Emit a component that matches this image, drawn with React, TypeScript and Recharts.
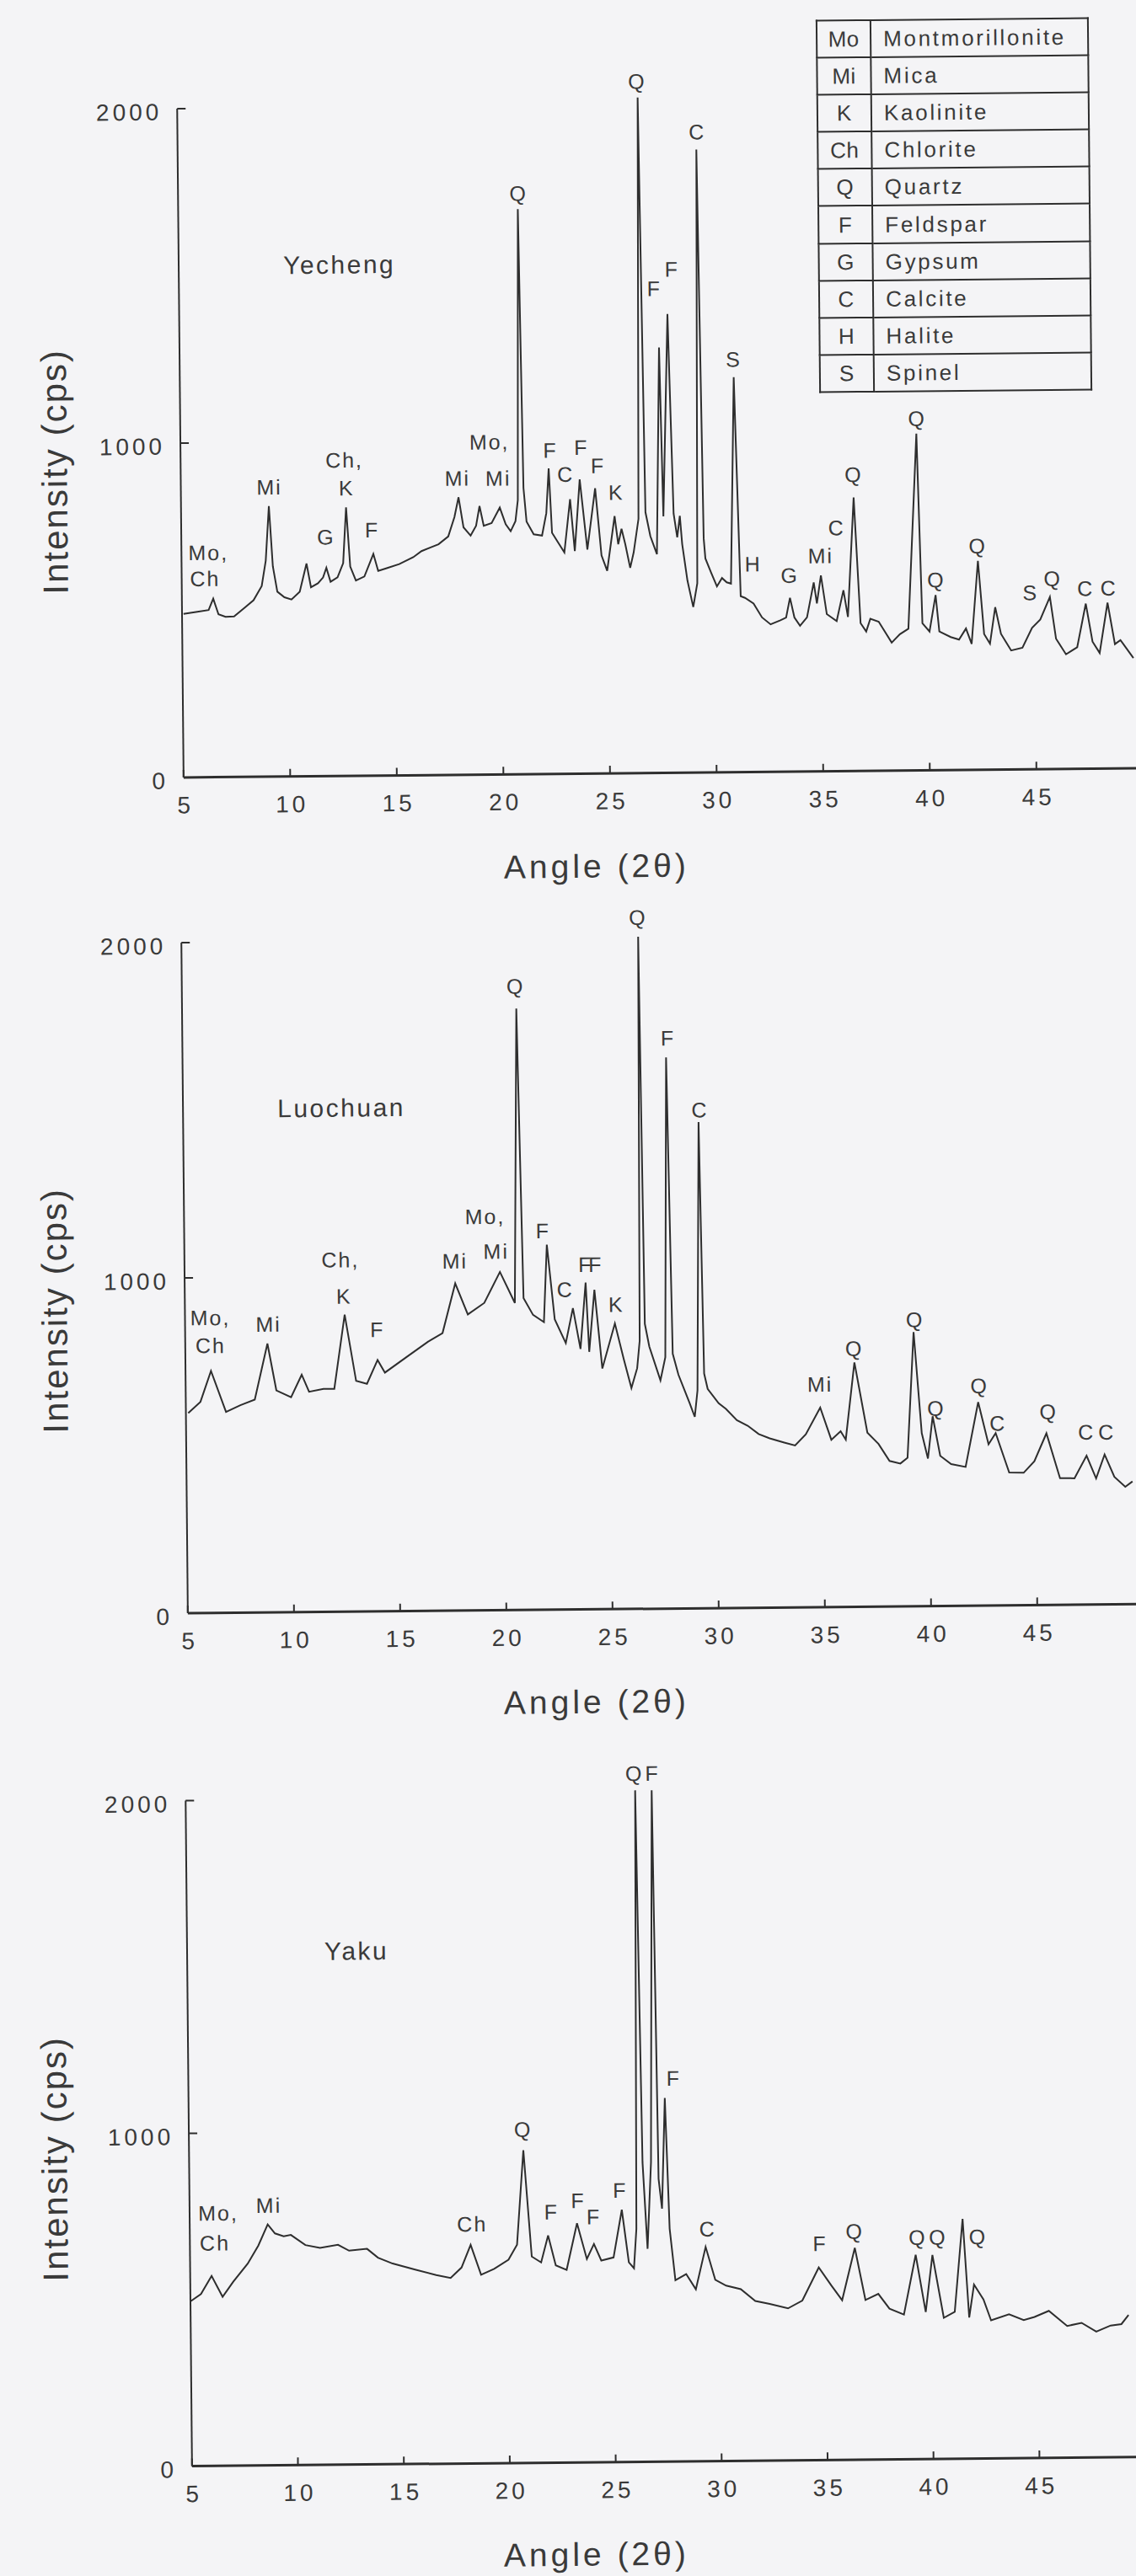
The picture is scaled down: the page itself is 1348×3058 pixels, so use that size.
import React from "react";
import { LineChart, Line, XAxis, YAxis, ReferenceDot, ReferenceLine } from "recharts";

// X-ray diffraction patterns: [2θ angle, intensity (cps)]
const yechengPattern = [
  [5.07, 489], [5.72, 495], [6.25, 500], [6.47, 534], [6.71, 487], [7.04, 479], [7.44, 480],
  [7.96, 507], [8.36, 528], [8.75, 570], [8.95, 646], [9.12, 809], [9.28, 629], [9.48, 553],
  [9.81, 536], [10.14, 529], [10.53, 552], [10.86, 636], [11.06, 565], [11.39, 577], [11.63, 594],
  [11.79, 623], [11.98, 581], [12.31, 594], [12.58, 636], [12.74, 803], [12.91, 626], [13.17, 584],
  [13.57, 596], [14.0, 663], [14.22, 612], [14.62, 620], [15.21, 632], [15.87, 652], [16.26, 670],
  [16.66, 680], [17.06, 690], [17.52, 713], [17.82, 771], [18.02, 830], [18.24, 740], [18.57, 715],
  [18.83, 744], [19.0, 803], [19.19, 744], [19.56, 752], [19.95, 798], [20.22, 748], [20.45, 727],
  [20.68, 757], [20.8, 820], [20.93, 1690], [21.07, 856], [21.2, 755], [21.53, 717], [21.92, 713],
  [22.13, 780], [22.26, 914], [22.39, 721], [22.72, 687], [22.96, 662], [23.25, 821], [23.45, 666],
  [23.71, 880], [24.04, 670], [24.43, 853], [24.7, 652], [24.96, 606], [25.33, 769], [25.49, 685],
  [25.65, 731], [25.82, 685], [26.04, 614], [26.21, 660], [26.45, 760], [26.6, 2020], [26.78, 780],
  [27.0, 708], [27.3, 654], [27.49, 1272], [27.62, 767], [27.9, 1372], [28.1, 775], [28.26, 704],
  [28.39, 768], [28.49, 683], [28.72, 574], [28.98, 495], [29.18, 566], [29.33, 1863], [29.5, 700],
  [29.57, 640], [29.83, 598], [30.1, 556], [30.34, 581], [30.56, 568], [30.76, 564], [30.98, 1181],
  [31.21, 526], [31.41, 521], [31.81, 504], [32.2, 462], [32.6, 441], [33.06, 453], [33.33, 461],
  [33.52, 520], [33.72, 461], [33.98, 436], [34.31, 461], [34.64, 565], [34.78, 502], [34.98, 586],
  [35.24, 470], [35.7, 449], [36.03, 541], [36.23, 461], [36.55, 818], [36.82, 442], [37.08, 417],
  [37.28, 455], [37.67, 446], [38.27, 383], [38.66, 408], [39.06, 424], [39.52, 1007], [39.72, 440],
  [40.05, 415], [40.35, 524], [40.51, 415], [41.04, 398], [41.43, 390], [41.76, 423], [42.02, 377],
  [42.35, 625], [42.61, 406], [42.88, 377], [43.14, 486], [43.4, 406], [43.87, 356], [44.4, 364],
  [44.86, 423], [45.25, 448], [45.71, 515], [45.98, 390], [46.44, 343], [46.97, 364], [47.39, 494],
  [47.69, 380], [48.02, 346], [48.41, 496], [48.74, 372], [49.0, 384], [49.6, 330],
];

const luochuanPattern = [
  [5.11, 597], [5.69, 630], [6.2, 722], [6.89, 599], [7.57, 619], [8.25, 635], [8.87, 802],
  [9.27, 662], [9.96, 641], [10.47, 708], [10.81, 657], [11.49, 665], [12.0, 665], [12.52, 886],
  [13.03, 688], [13.54, 679], [14.05, 750], [14.39, 712], [15.42, 758], [16.44, 803], [17.12, 828],
  [17.74, 976], [18.32, 883], [19.1, 917], [19.85, 1009], [20.54, 916], [20.74, 1794], [20.95, 930],
  [21.39, 880], [21.9, 858], [22.07, 1089], [22.41, 866], [22.92, 795], [23.27, 899], [23.61, 777],
  [23.88, 975], [24.02, 768], [24.29, 953], [24.63, 718], [25.24, 852], [25.65, 743], [25.99, 659],
  [26.27, 718], [26.4, 800], [26.51, 2005], [26.65, 850], [26.85, 782], [27.36, 681], [27.6, 750],
  [27.77, 1644], [27.95, 760], [28.21, 697], [28.72, 613], [28.96, 571], [29.1, 650], [29.27, 1450],
  [29.42, 700], [29.58, 654], [30.09, 611], [30.43, 594], [30.94, 560], [31.45, 543], [31.96, 518],
  [32.48, 505], [33.16, 492], [33.67, 483], [34.18, 516], [34.87, 595], [35.38, 499], [35.82, 524],
  [36.06, 499], [36.5, 729], [37.08, 519], [37.6, 485], [38.11, 434], [38.62, 426], [38.96, 443],
  [39.3, 818], [39.64, 516], [39.92, 440], [40.16, 566], [40.5, 448], [41.01, 423], [41.69, 414],
  [42.31, 607], [42.78, 481], [43.12, 514], [43.74, 396], [44.42, 395], [44.93, 429], [45.51, 512],
  [46.13, 378], [46.81, 377], [47.39, 444], [47.83, 376], [48.24, 447], [48.69, 380], [49.2, 350],
  [49.54, 366],
];

const yakuPattern = [
  [5.0, 495], [5.5, 517], [6.01, 571], [6.52, 508], [7.03, 553], [7.72, 607], [8.23, 661],
  [8.68, 724], [9.02, 697], [9.43, 688], [9.77, 692], [10.45, 661], [11.14, 652], [11.99, 661],
  [12.51, 643], [13.36, 648], [13.87, 621], [14.56, 603], [15.58, 585], [16.61, 567], [17.29, 558],
  [17.81, 589], [18.25, 657], [18.73, 567], [19.35, 584], [20.03, 611], [20.44, 656], [20.78, 940],
  [21.13, 620], [21.57, 602], [21.91, 683], [22.26, 593], [22.77, 579], [23.28, 719], [23.73, 611],
  [24.07, 656], [24.41, 606], [24.99, 615], [25.4, 758], [25.71, 600], [25.95, 582], [26.08, 700],
  [26.22, 2018], [26.4, 900], [26.6, 640], [26.8, 900], [27.0, 2018], [27.15, 850], [27.3, 760],
  [27.48, 1093], [27.65, 700], [27.9, 545], [28.41, 563], [28.86, 517], [29.34, 644], [29.78, 545],
  [30.29, 527], [30.98, 516], [31.66, 480], [32.34, 471], [33.2, 457], [33.88, 480], [34.67, 579],
  [35.25, 525], [35.76, 480], [36.38, 637], [36.86, 480], [37.47, 498], [37.99, 453], [38.67, 435],
  [39.25, 614], [39.7, 442], [40.04, 613], [40.55, 424], [41.07, 442], [41.48, 721], [41.75, 424],
  [41.99, 523], [42.43, 478], [42.78, 415], [43.63, 433], [44.32, 415], [44.83, 424], [45.51, 442],
  [46.37, 396], [47.05, 405], [47.74, 378], [48.42, 396], [48.93, 400], [49.27, 427],
];

// peak identifications: [angle, intensity at text centre, mineral code]
const yechengPeaks = [
  [6.26, 672, "Mo,"], [6.1, 594, "Ch"], [9.15, 866, "Mi"], [11.79, 715, "G"], [12.68, 945, "Ch,"],
  [12.77, 861, "K"], [13.95, 735, "F"], [17.98, 887, "Mi"], [19.49, 995, "Mo,"], [19.89, 886, "Mi"],
  [20.97, 1737, "Q"], [22.35, 968, "F"], [23.05, 896, "C"], [23.8, 976, "F"], [24.57, 921, "F"],
  [25.42, 840, "K"], [26.58, 2069, "Q"], [27.29, 1449, "F"], [28.13, 1506, "F"], [29.37, 1916, "C"],
  [30.98, 1235, "S"], [31.81, 622, "H"], [33.52, 587, "G"], [34.98, 645, "Mi"], [35.74, 728, "C"],
  [36.56, 887, "Q"], [39.56, 1053, "Q"], [40.38, 570, "Q"], [42.35, 670, "Q"], [44.8, 529, "S"],
  [45.85, 570, "Q"], [47.39, 540, "C"], [48.48, 540, "C"],
];

const luochuanPeaks = [
  [6.19, 881, "Mo,"], [6.19, 798, "Ch"], [8.93, 860, "Mi"], [12.34, 1050, "Ch,"], [12.5, 941, "K"],
  [14.05, 841, "F"], [17.74, 1043, "Mi"], [19.17, 1175, "Mo,"], [19.68, 1071, "Mi"], [20.71, 1861, "Q"],
  [21.9, 1131, "F"], [22.92, 955, "C"], [23.88, 1029, "F"], [24.36, 1029, "F"], [25.31, 909, "K"],
  [26.51, 2063, "Q"], [27.87, 1702, "F"], [29.34, 1487, "C"], [34.87, 665, "Mi"], [36.5, 771, "Q"],
  [39.37, 855, "Q"], [40.33, 590, "Q"], [42.37, 656, "Q"], [43.23, 544, "C"], [45.62, 577, "Q"],
  [47.39, 515, "C"], [48.35, 514, "C"],
];

const yakuPeaks = [
  [6.35, 760, "Mo,"], [6.18, 670, "Ch"], [8.74, 782, "Mi"], [18.33, 720, "Ch"], [20.78, 1003, "Q"],
  [22.08, 754, "F"], [23.35, 787, "F"], [24.07, 738, "F"], [25.33, 817, "F"], [26.19, 2069, "Q"],
  [27.04, 2069, "F"], [27.91, 1152, "F"], [29.44, 698, "C"], [34.74, 651, "F"], [36.38, 687, "Q"],
  [39.35, 667, "Q"], [40.31, 667, "Q"], [42.2, 667, "Q"],
];

const angleTicks = [5, 10, 15, 20, 25, 30, 35, 40, 45];
const intensityTicks = [0, 1000, 2000];

const mineralCodes = ["Mo", "Mi", "K", "Ch", "Q", "F", "G", "C", "H", "S"];
const mineralNames = [
  "Montmorillonite", "Mica", "Kaolinite", "Chlorite", "Quartz",
  "Feldspar", "Gypsum", "Calcite", "Halite", "Spinel",
];

const INK = "#2e2e2e";
const TEXT = "#3a3a3a";
const FONT = '"Liberation Sans", Arial, Helvetica, sans-serif';
const PAGE_W = 1348;
const PAGE_H = 3058;
const Y_TOP = 2150;
const TILT = "rotate(-0.55deg)";

const AngleTick = (props: any) => {
  const { x, y, payload } = props;
  return (
    <g>
      <line x1={x} y1={y} x2={x} y2={y - 9} stroke={INK} strokeWidth={2} />
      <text x={x + 2} y={y + 33} textAnchor="middle" dominantBaseline="central"
        fontSize={28} fill={TEXT} style={{ letterSpacing: 4 }}>
        {payload.value}
      </text>
    </g>
  );
};

const CpsTick = (props: any) => {
  const { x, y, payload } = props;
  return (
    <g>
      {payload.value > 0 && <line x1={x} y1={y} x2={x + 10} y2={y} stroke={INK} strokeWidth={2} />}
      <text x={x - 18} y={y + 4} textAnchor="end" dominantBaseline="central"
        fontSize={28} fill={TEXT} style={{ letterSpacing: 4 }}>
        {payload.value}
      </text>
    </g>
  );
};

const peakText = (code: string) => (p: any) => (
  <text x={p.cx} y={p.cy} textAnchor="middle" dominantBaseline="central"
    fontSize={25} fill={TEXT} style={{ letterSpacing: 2 }}>
    {code}
  </text>
);

function Panel({ name, pattern, peaks, axisX, zeroY, pxPerCps, pxPerDeg, nameX, nameY, titleY }: any) {
  const plotH = Y_TOP * pxPerCps;
  const top = zeroY - plotH - 10;
  const xEnd = 5 + (PAGE_W - axisX) / pxPerDeg;
  const data = pattern.map(([a, i]: number[]) => ({ a, i }));
  // the whole panel is turned slightly about the middle of its plot
  const pivot = `780px ${zeroY - 400}px`;
  return (
    <div style={{ position: "absolute", left: 0, top: 0, width: PAGE_W, height: PAGE_H,
      transform: TILT, transformOrigin: pivot, pointerEvents: "none" }}>
      <div style={{ position: "absolute", left: 0, top }}>
        <LineChart width={PAGE_W} height={10 + plotH + 130} data={data}
          margin={{ top: 10, right: 0, bottom: 0, left: 0 }}>
          <XAxis type="number" dataKey="a" domain={[5, xEnd]} ticks={angleTicks} interval={0}
            height={130} tickSize={0} tickMargin={0} tickLine={false}
            axisLine={{ stroke: INK, strokeWidth: 3 }} tick={<AngleTick />} />
          <YAxis type="number" domain={[0, Y_TOP]} ticks={intensityTicks} interval={0}
            width={axisX} tickSize={0} tickMargin={0} tickLine={false} axisLine={false}
            tick={<CpsTick />} />
          <ReferenceLine segment={[{ x: 5, y: 0 }, { x: 5, y: 2000 }]} stroke={INK} strokeWidth={2} />
          <Line type="linear" dataKey="i" stroke={INK} strokeWidth={2} dot={false}
            isAnimationActive={false} />
          {peaks.map(([a, v, code]: any, k: number) => (
            <ReferenceDot key={k} x={a} y={v} r={0} shape={peakText(code)} />
          ))}
        </LineChart>
      </div>
      <div style={{ position: "absolute", left: nameX, top: nameY, transform: "translateY(-50%)",
        fontSize: 30, letterSpacing: 2.5, color: TEXT, whiteSpace: "nowrap" }}>
        {name}
      </div>
      <div style={{ position: "absolute", left: 65, top: titleY,
        transform: "translate(-50%, -50%) rotate(-90deg)", fontSize: 42, letterSpacing: 2,
        color: TEXT, whiteSpace: "nowrap" }}>
        Intensity (cps)
      </div>
      <div style={{ position: "absolute", left: 703, top: zeroY + 110,
        transform: "translate(-50%, -50%)", fontSize: 39, letterSpacing: 4,
        color: TEXT, whiteSpace: "nowrap" }}>
        Angle (2θ)
      </div>
    </div>
  );
}

function MineralTable() {
  const cell = { border: `2px solid ${INK}`, height: 40, padding: 0, fontSize: 26,
    letterSpacing: 2.7, color: TEXT, lineHeight: "40px" } as const;
  return (
    <table style={{ position: "absolute", left: 970, top: 22, width: 324, height: 443,
      borderCollapse: "collapse", fontFamily: FONT, transform: TILT }}>
      <tbody>
        {mineralCodes.map((code, k) => (
          <tr key={code}>
            <td style={{ ...cell, width: 62, textAlign: "center", letterSpacing: 0.5 }}>{code}</td>
            <td style={{ ...cell, textAlign: "left", paddingLeft: 14 }}>{mineralNames[k]}</td>
          </tr>
        ))}
      </tbody>
    </table>
  );
}

export default function App() {
  return (
    <div style={{ position: "absolute", left: 0, top: 0, width: PAGE_W, height: PAGE_H,
      overflow: "hidden", background: "#f4f4f6", fontFamily: FONT }}>
      <Panel name="Yecheng" pattern={yechengPattern} peaks={yechengPeaks}
        axisX={214} zeroY={918} pxPerCps={0.397} pxPerDeg={25.3}
        nameX={338} nameY={311} titleY={553} />
      <Panel name="Luochuan" pattern={luochuanPattern} peaks={luochuanPeaks}
        axisX={219} zeroY={1910} pxPerCps={0.398} pxPerDeg={25.2}
        nameX={331} nameY={1312} titleY={1549} />
      <Panel name="Yaku" pattern={yakuPattern} peaks={yakuPeaks}
        axisX={224} zeroY={2922} pxPerCps={0.395} pxPerDeg={25.14}
        nameX={387} nameY={2313} titleY={2556} />
      <MineralTable />
    </div>
  );
}
